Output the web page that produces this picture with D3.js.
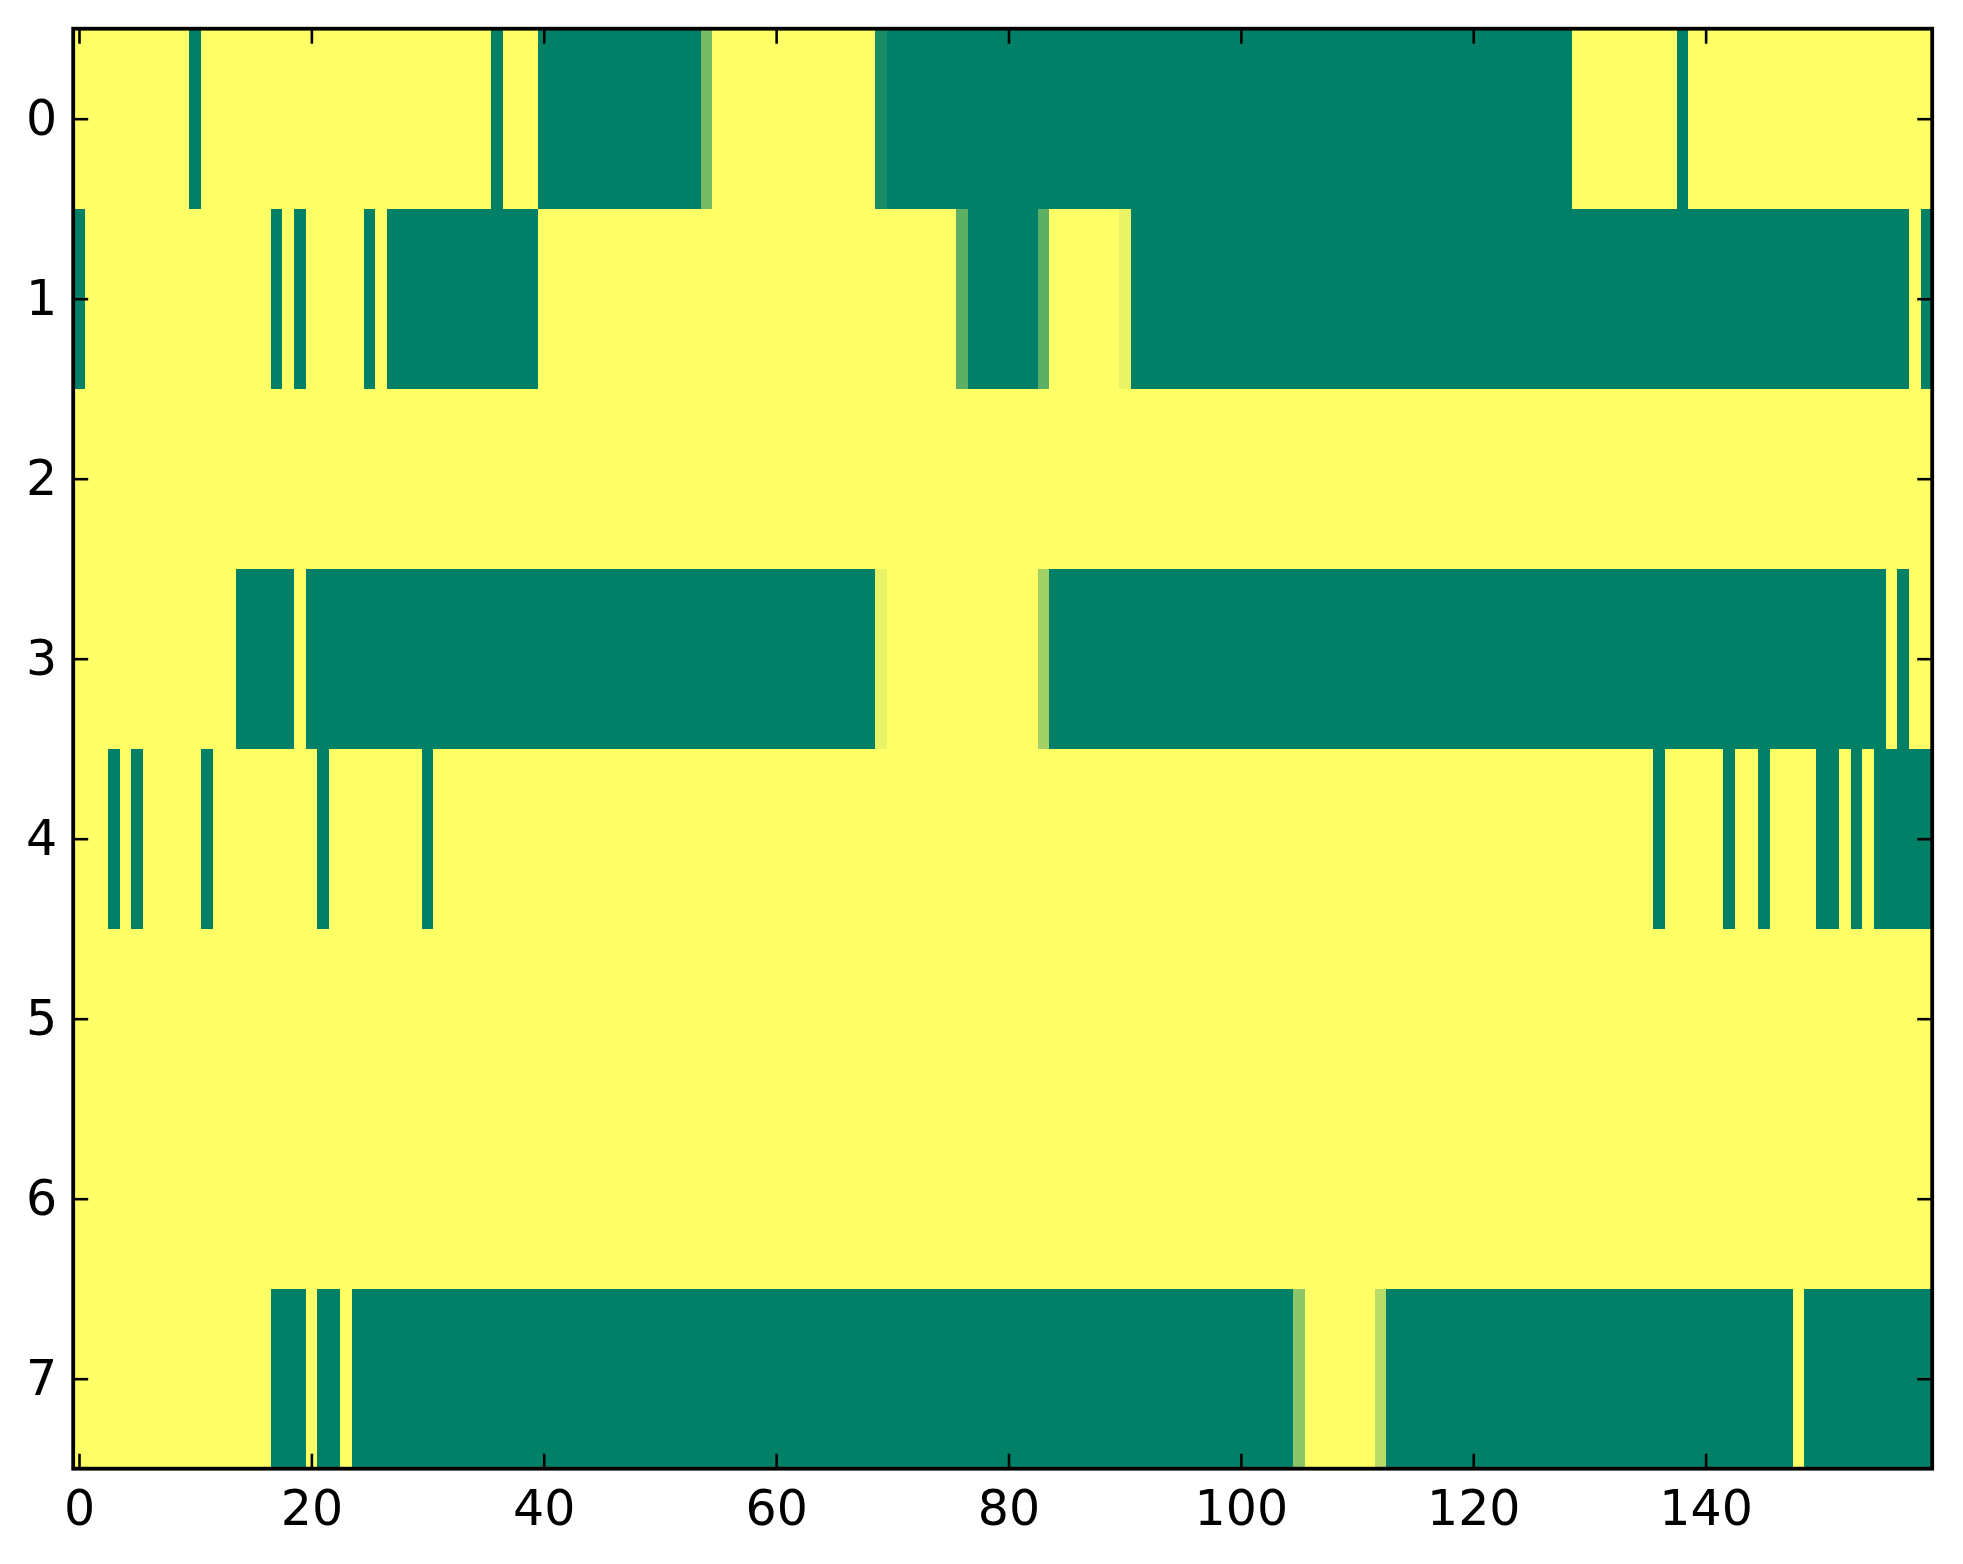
<!DOCTYPE html>
<html>
<head>
<meta charset="utf-8">
<script src="https://cdn.jsdelivr.net/npm/d3@7"></script>
<style>
  html, body { margin: 0; padding: 0; background: #ffffff; }
  svg { display: block; }
</style>
</head>
<body>
<div id="chart"></div>
<script>
// ---- Data (8 rows x 160 columns, values 0..1) ----
const rowLabels = [0, 1, 2, 3, 4, 5, 6, 7];
const xTickValues = [0, 20, 40, 60, 80, 100, 120, 140];

const row0 = [
  1,1,1,1,1,1,1,1,1,1, 0,1,1,1,1,1,1,1,1,1,
  1,1,1,1,1,1,1,1,1,1, 1,1,1,1,1,1,0,1,1,1,
  0,0,0,0,0,0,0,0,0,0, 0,0,0,0,0.47,1,1,1,1,1,
  1,1,1,1,1,1,1,1,1,0.1, 0,0,0,0,0,0,0,0,0,0,
  0,0,0,0,0,0,0,0,0,0, 0,0,0,0,0,0,0,0,0,0,
  0,0,0,0,0,0,0,0,0,0, 0,0,0,0,0,0,0,0,0,0,
  0,0,0,0,0,0,0,0,0,1, 1,1,1,1,1,1,1,1,0,1,
  1,1,1,1,1,1,1,1,1,1, 1,1,1,1,1,1,1,1,1,1
];
const row1 = [
  0,1,1,1,1,1,1,1,1,1, 1,1,1,1,1,1,1,0,1,0,
  1,1,1,1,1,0,1,0,0,0, 0,0,0,0,0,0,0,0,0,0,
  1,1,1,1,1,1,1,1,1,1, 1,1,1,1,1,1,1,1,1,1,
  1,1,1,1,1,1,1,1,1,1, 1,1,1,1,1,1,0.37,0,0,0,
  0,0,0,0.37,1,1,1,1,1,1, 0.91,0,0,0,0,0,0,0,0,0,
  0,0,0,0,0,0,0,0,0,0, 0,0,0,0,0,0,0,0,0,0,
  0,0,0,0,0,0,0,0,0,0, 0,0,0,0,0,0,0,0,0,0,
  0,0,0,0,0,0,0,0,0,0, 0,0,0,0,0,0,0,0,1,0
];
const row2 = [
  1,1,1,1,1,1,1,1,1,1, 1,1,1,1,1,1,1,1,1,1,
  1,1,1,1,1,1,1,1,1,1, 1,1,1,1,1,1,1,1,1,1,
  1,1,1,1,1,1,1,1,1,1, 1,1,1,1,1,1,1,1,1,1,
  1,1,1,1,1,1,1,1,1,1, 1,1,1,1,1,1,1,1,1,1,
  1,1,1,1,1,1,1,1,1,1, 1,1,1,1,1,1,1,1,1,1,
  1,1,1,1,1,1,1,1,1,1, 1,1,1,1,1,1,1,1,1,1,
  1,1,1,1,1,1,1,1,1,1, 1,1,1,1,1,1,1,1,1,1,
  1,1,1,1,1,1,1,1,1,1, 1,1,1,1,1,1,1,1,1,1
];
const row3 = [
  1,1,1,1,1,1,1,1,1,1, 1,1,1,1,0,0,0,0,0,1,
  0,0,0,0,0,0,0,0,0,0, 0,0,0,0,0,0,0,0,0,0,
  0,0,0,0,0,0,0,0,0,0, 0,0,0,0,0,0,0,0,0,0,
  0,0,0,0,0,0,0,0,0,0.91, 1,1,1,1,1,1,1,1,1,1,
  1,1,1,0.63,0,0,0,0,0,0, 0,0,0,0,0,0,0,0,0,0,
  0,0,0,0,0,0,0,0,0,0, 0,0,0,0,0,0,0,0,0,0,
  0,0,0,0,0,0,0,0,0,0, 0,0,0,0,0,0,0,0,0,0,
  0,0,0,0,0,0,0,0,0,0, 0,0,0,0,0,0,1,0,1,1
];
const row4 = [
  1,1,1,0,1,0,1,1,1,1, 1,0,1,1,1,1,1,1,1,1,
  1,0,1,1,1,1,1,1,1,1, 0,1,1,1,1,1,1,1,1,1,
  1,1,1,1,1,1,1,1,1,1, 1,1,1,1,1,1,1,1,1,1,
  1,1,1,1,1,1,1,1,1,1, 1,1,1,1,1,1,1,1,1,1,
  1,1,1,1,1,1,1,1,1,1, 1,1,1,1,1,1,1,1,1,1,
  1,1,1,1,1,1,1,1,1,1, 1,1,1,1,1,1,1,1,1,1,
  1,1,1,1,1,1,1,1,1,1, 1,1,1,1,1,1,0,1,1,1,
  1,1,0,1,1,0,1,1,1,1, 0,0,1,0,1,0,0,0,0,0
];
const row5 = [
  1,1,1,1,1,1,1,1,1,1, 1,1,1,1,1,1,1,1,1,1,
  1,1,1,1,1,1,1,1,1,1, 1,1,1,1,1,1,1,1,1,1,
  1,1,1,1,1,1,1,1,1,1, 1,1,1,1,1,1,1,1,1,1,
  1,1,1,1,1,1,1,1,1,1, 1,1,1,1,1,1,1,1,1,1,
  1,1,1,1,1,1,1,1,1,1, 1,1,1,1,1,1,1,1,1,1,
  1,1,1,1,1,1,1,1,1,1, 1,1,1,1,1,1,1,1,1,1,
  1,1,1,1,1,1,1,1,1,1, 1,1,1,1,1,1,1,1,1,1,
  1,1,1,1,1,1,1,1,1,1, 1,1,1,1,1,1,1,1,1,1
];
const row6 = [
  1,1,1,1,1,1,1,1,1,1, 1,1,1,1,1,1,1,1,1,1,
  1,1,1,1,1,1,1,1,1,1, 1,1,1,1,1,1,1,1,1,1,
  1,1,1,1,1,1,1,1,1,1, 1,1,1,1,1,1,1,1,1,1,
  1,1,1,1,1,1,1,1,1,1, 1,1,1,1,1,1,1,1,1,1,
  1,1,1,1,1,1,1,1,1,1, 1,1,1,1,1,1,1,1,1,1,
  1,1,1,1,1,1,1,1,1,1, 1,1,1,1,1,1,1,1,1,1,
  1,1,1,1,1,1,1,1,1,1, 1,1,1,1,1,1,1,1,1,1,
  1,1,1,1,1,1,1,1,1,1, 1,1,1,1,1,1,1,1,1,1
];
const row7 = [
  1,1,1,1,1,1,1,1,1,1, 1,1,1,1,1,1,1,0,0,0,
  1,0,0,1,0,0,0,0,0,0, 0,0,0,0,0,0,0,0,0,0,
  0,0,0,0,0,0,0,0,0,0, 0,0,0,0,0,0,0,0,0,0,
  0,0,0,0,0,0,0,0,0,0, 0,0,0,0,0,0,0,0,0,0,
  0,0,0,0,0,0,0,0,0,0, 0,0,0,0,0,0,0,0,0,0,
  0,0,0,0,0,0.55,1,1,1,1, 1,1,0.72,0,0,0,0,0,0,0,
  0,0,0,0,0,0,0,0,0,0, 0,0,0,0,0,0,0,0,0,0,
  0,0,0,0,0,0,0,0,1,0, 0,0,0,0,0,0,0,0,0,0
];
const rows = [row0, row1, row2, row3, row4, row5, row6, row7];

// ---- Layout ----
const W = 1963, H = 1564;
const plot = { left: 73.2, right: 1932.2, top: 28.7, bottom: 1468.7 };
const nCols = row0.length;

// matplotlib "summer" colormap: (v, 0.5 + v/2, 0.4)
const summer = v => d3.rgb(255 * v, 255 * (0.5 + v / 2), 102).toString();

const x = d3.scaleLinear().domain([-0.5, nCols - 0.5]).range([plot.left, plot.right]);
const y = d3.scaleLinear().domain([-0.5, rows.length - 0.5]).range([plot.top, plot.bottom]);

const svg = d3.select("#chart").append("svg")
  .attr("width", W).attr("height", H)
  .attr("viewBox", `0 0 ${W} ${H}`);

svg.append("rect").attr("width", W).attr("height", H).attr("fill", "#ffffff");

const cells = [];
rows.forEach((r, ri) => r.forEach((v, ci) => cells.push({ r: ri, c: ci, v })));

svg.append("g").attr("shape-rendering", "crispEdges")
  .selectAll("rect").data(cells).join("rect")
  .attr("x", d => x(d.c - 0.5))
  .attr("y", d => y(d.r - 0.5))
  .attr("width", d => x(d.c + 0.5) - x(d.c - 0.5) + 0.6)
  .attr("height", d => y(d.r + 0.5) - y(d.r - 0.5) + 0.6)
  .attr("fill", d => summer(d.v));

const font = "'DejaVu Sans', sans-serif";
const tickLen = 15;

function styleAxis(g, showLabels) {
  g.select(".domain").remove();
  g.selectAll(".tick line").attr("stroke", "#000").attr("stroke-width", 2.6);
  g.selectAll(".tick text")
    .attr("fill", "#000")
    .style("font-family", font)
    .style("font-size", "49px");
  if (!showLabels) g.selectAll(".tick text").remove();
}

svg.append("g").attr("transform", `translate(0,${plot.bottom})`)
  .call(d3.axisBottom(x).tickValues(xTickValues).tickSize(-tickLen).tickPadding(22).tickFormat(d3.format("d")))
  .call(g => styleAxis(g, true));
svg.append("g").attr("transform", `translate(0,${plot.top})`)
  .call(d3.axisTop(x).tickValues(xTickValues).tickSize(-tickLen))
  .call(g => styleAxis(g, false));
svg.append("g").attr("transform", `translate(${plot.left},0)`)
  .call(d3.axisLeft(y).tickValues(rowLabels).tickSize(-tickLen).tickPadding(16).tickFormat(d3.format("d")))
  .call(g => styleAxis(g, true));
svg.append("g").attr("transform", `translate(${plot.right},0)`)
  .call(d3.axisRight(y).tickValues(rowLabels).tickSize(-tickLen))
  .call(g => styleAxis(g, false));

// frame (spines)
svg.append("rect")
  .attr("x", plot.left).attr("y", plot.top)
  .attr("width", plot.right - plot.left).attr("height", plot.bottom - plot.top)
  .attr("fill", "none").attr("stroke", "#000").attr("stroke-width", 3.8);
</script>
</body>
</html>
